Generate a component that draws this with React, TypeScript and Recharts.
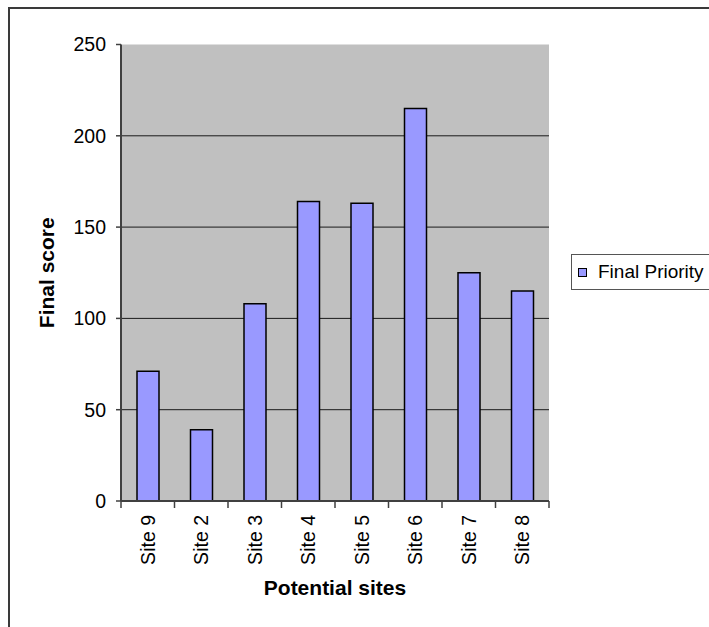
import React from 'react';
import { BarChart, Bar, XAxis, YAxis, CartesianGrid, Legend } from 'recharts';

const categories = ['Site 9', 'Site 2', 'Site 3', 'Site 4', 'Site 5', 'Site 6', 'Site 7', 'Site 8'];
const finalPriority = [71, 39, 108, 164, 163, 215, 125, 115];
const yTicks = [0, 50, 100, 150, 200, 250];
const gridValues = [50, 100, 150, 200];
const seriesName = 'Final Priority';
const xTitle = 'Potential sites';
const yTitle = 'Final score';

const data = categories.map((site, i) => ({ site, value: finalPriority[i] }));

const FONT = "'Liberation Sans', Arial, Helvetica, sans-serif";
const AXIS = '#404040';
const TICK = 7;

function SiteTick(props: any) {
  const { x, y, payload, index } = props;
  const half = payload && payload.offset ? payload.offset : 0;
  const axisY = y - TICK;
  const last = index === categories.length - 1;
  return (
    <g>
      <line x1={x - half} x2={x - half} y1={axisY} y2={axisY + TICK} stroke={AXIS} strokeWidth={1.5} />
      {last && (
        <line x1={x + half} x2={x + half} y1={axisY} y2={axisY + TICK} stroke={AXIS} strokeWidth={1.5} />
      )}
      <text
        x={x}
        y={y}
        dx={-7}
        dy="0.35em"
        transform={`rotate(-90, ${x}, ${y})`}
        textAnchor="end"
        fontFamily={FONT}
        fontSize={19.5}
        fill="#000"
      >
        {payload.value}
      </text>
    </g>
  );
}

function renderLegend(props: any) {
  const item = props.payload && props.payload[0];
  return (
    <div
      style={{
        boxSizing: 'border-box',
        width: 150,
        height: 36,
        border: '1px solid #555',
        background: '#fff',
        display: 'flex',
        alignItems: 'center',
        paddingLeft: 6,
      }}
    >
      <span
        style={{
          display: 'inline-block',
          width: 7,
          height: 7,
          border: '1px solid #000',
          background: '#9999FF',
          marginRight: 11,
        }}
      />
      <span style={{ fontFamily: FONT, fontSize: 19, color: '#000', whiteSpace: 'nowrap' }}>
        {item ? item.value : seriesName}
      </span>
    </div>
  );
}

export default function App() {
  return (
    <div
      style={{
        position: 'fixed',
        left: 0,
        top: 0,
        width: 709,
        height: 627,
        overflow: 'hidden',
        background: '#fff',
      }}
    >
      <div
        style={{
          position: 'absolute',
          left: 8,
          top: 7,
          width: 800,
          height: 800,
          borderLeft: '2px solid #3a3a3a',
          borderTop: '2px solid #3a3a3a',
          pointerEvents: 'none',
        }}
      />
      <div style={{ position: 'absolute', left: 0, top: 0 }}>
        <BarChart
          width={709}
          height={627}
          data={data}
          margin={{ top: 44.5, right: 160, bottom: 0, left: 0 }}
          barSize={22}
        >
          <CartesianGrid
            horizontal
            vertical={false}
            horizontalValues={gridValues}
            fill="#C0C0C0"
            fillOpacity={1}
            stroke="#1a1a1a"
            strokeWidth={1}
          />
          <XAxis
            dataKey="site"
            interval={0}
            height={126}
            tickSize={TICK}
            tickMargin={0}
            tickLine={false}
            axisLine={{ stroke: AXIS, strokeWidth: 2 }}
            tick={<SiteTick />}
            label={{
              value: xTitle,
              position: 'insideBottom',
              offset: 32,
              style: { fontFamily: FONT, fontSize: 21, fontWeight: 'bold', fill: '#000' },
            }}
          />
          <XAxis
            xAxisId="top"
            dataKey="site"
            orientation="top"
            height={0}
            tick={false}
            tickLine={false}
            axisLine={{ stroke: '#808080', strokeWidth: 2 }}
          />
          <YAxis
            domain={[0, 250]}
            ticks={yTicks}
            interval={0}
            width={121}
            tickSize={5}
            tickMargin={10}
            axisLine={{ stroke: AXIS, strokeWidth: 2 }}
            tickLine={{ stroke: AXIS, strokeWidth: 1.5 }}
            tick={{ fontFamily: FONT, fontSize: 19.5, fill: '#000' }}
            label={{
              value: yTitle,
              angle: -90,
              position: 'insideLeft',
              offset: 47,
              style: { textAnchor: 'middle', fontFamily: FONT, fontSize: 21, fontWeight: 'bold', fill: '#000' },
            }}
          />
          <YAxis
            yAxisId="right"
            orientation="right"
            width={0}
            domain={[0, 250]}
            tick={false}
            tickLine={false}
            axisLine={{ stroke: '#808080', strokeWidth: 2 }}
          />
          <Bar
            dataKey="value"
            name={seriesName}
            fill="#9999FF"
            stroke="#000"
            strokeWidth={1.5}
            isAnimationActive={false}
          />
          <Legend
            layout="vertical"
            align="center"
            verticalAlign="middle"
            content={renderLegend}
            wrapperStyle={{ left: 571, top: 254 }}
          />
        </BarChart>
      </div>
    </div>
  );
}
